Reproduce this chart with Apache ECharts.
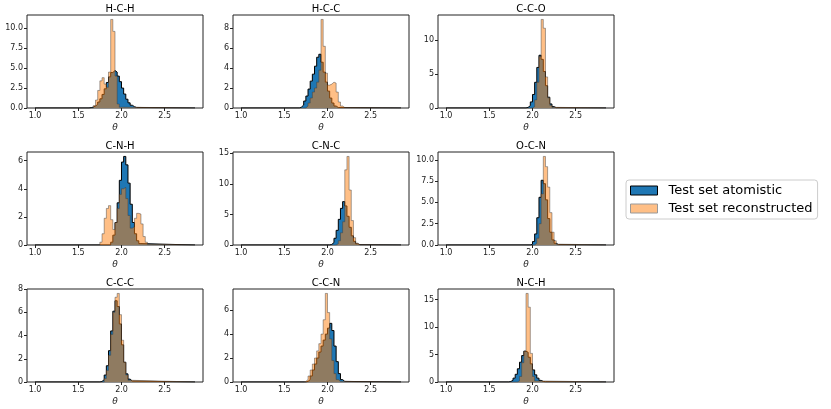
<!DOCTYPE html>
<html><head><meta charset="utf-8">
<script src="https://cdn.jsdelivr.net/npm/echarts@6/dist/echarts.min.js"></script>
<style>html,body{margin:0;padding:0;background:#fff}#c{width:831px;height:409px}</style>
</head><body><div id="c"></div>
<script>
// ---- data ----
const titles = ['H-C-H','H-C-C','C-C-O','C-N-H','C-N-C','O-C-N','C-C-C','C-C-N','N-C-H'];
const binWidth = 0.025;
const thetaRange = [1.0, 2.85];
const xTicks = [1.0, 1.5, 2.0, 2.5];
const yTickStep = [2.5, 2, 5, 2, 5, 2.5, 2, 2, 5];
const yDecimals = [1, 0, 0, 0, 0, 1, 0, 0, 0];
// left edge (theta) of first listed bin, per panel
const atomStart  = [1.625, 1.675, 1.925, 1.875, 2.025, 1.975, 1.750, 1.750, 1.725];
const reconStart = [1.675, 1.750, 2.000, 1.750, 2.100, 2.025, 1.800, 1.725, 1.825];

const atomHCH  = [0.05,0.12,0.25,0.45,0.75,1.15,1.7,2.4,3.2,3.9,4.45,4.7,4.5,4.0,3.3,2.5,1.75,1.1,0.65,0.35,0.17,0.07];
const reconHCH = [0.3,1.0,2.2,3.4,3.8,3.0,2.6,4.5,11.1,9.6,4.0,0.5,0.1];
const atomHCC  = [0.1,0.3,0.7,1.2,1.9,2.7,3.4,4.2,5.1,5.4,4.6,3.6,2.6,1.7,1.0,0.5,0.2,0.05];
const reconHCC = [0.2,0.5,1.0,1.6,2.0,2.6,3.8,8.9,6.2,3.5,2.3,2.4,2.6,2.5,1.6,0.6,0.2,0.05];
const atomCCO  = [0.1,0.35,0.9,2.0,3.8,6.0,7.8,7.2,5.4,3.3,1.6,0.6,0.2,0.05];
const reconCCO = [0.2,1.2,3.8,7.6,13.1,11.8,4.6,1.5,0.4,0.1];
const atomCNH  = [0.2,0.7,1.6,3.0,4.6,5.9,6.3,5.7,4.4,2.9,1.6,0.8,0.3,0.1];
const reconCNH = [0.2,0.8,1.9,2.6,2.8,1.8,1.1,1.6,2.6,3.6,4.0,4.1,3.3,2.1,1.2,1.3,1.9,2.25,2.2,1.5,0.6,0.2,0.05];
const atomCNC  = [0.1,0.4,1.1,2.4,4.2,6.0,7.1,6.4,4.7,2.9,1.5,0.6,0.2,0.05];
const reconCNC = [0.2,0.7,2.0,3.8,12.3,14.5,9.0,4.0,1.2,0.3,0.05];
const atomOCN  = [0.1,0.4,1.3,3.2,5.6,7.6,7.2,5.3,3.1,1.5,0.6,0.2,0.05];
const reconOCN = [0.2,0.8,2.5,6.0,10.4,9.2,6.8,3.8,1.5,0.5,0.1];
const atomCCC  = [0.05,0.2,0.6,1.4,2.7,4.4,6.1,7.0,6.5,5.0,3.2,1.7,0.7,0.25,0.08];
const reconCCC = [0.3,1.0,2.3,4.1,6.0,7.3,7.63,5.8,3.6,1.7,0.6,0.15];
const atomCCN  = [0.05,0.2,0.5,1.0,1.5,2.0,2.5,3.0,3.5,4.0,4.5,4.9,4.3,3.0,1.7,0.7,0.2,0.05];
const reconCCN = [0.05,0.2,0.5,1.0,1.5,2.0,2.6,3.2,4.0,5.2,7.4,5.8,3.6,1.8,0.7,0.2,0.05];
const atomNCH  = [0.1,0.3,0.7,1.4,2.4,3.6,4.8,5.6,5.4,4.5,3.3,2.2,1.3,0.7,0.3,0.1,0.05];
const reconNCH = [0.2,1.0,3.5,5.6,16.1,13.6,5.2,1.0,0.2];

const atomistic = [atomHCH, atomHCC, atomCCO, atomCNH, atomCNC, atomOCN, atomCCC, atomCCN, atomNCH];
const reconstructed = [reconHCH, reconHCC, reconCCO, reconCNH, reconCNC, reconOCN, reconCCC, reconCCN, reconNCH];
const seriesNames = ['Test set atomistic', 'Test set reconstructed'];

// ---- layout ----
const colLeft = [27, 233, 438];
const rowTop = [15, 152, 289];
const gw = 176, gh = 93;
const xMin = 0.9075, xMax = 2.9425;
const FONT = 'DejaVu Sans';

function stepData(start, h) {
  const pts = [[thetaRange[0], 0]];
  h.forEach((v, i) => pts.push([+(start + i * binWidth).toFixed(4), v]));
  pts.push([+(start + h.length * binWidth).toFixed(4), 0]);
  pts.push([thetaRange[1], 0]);
  return pts;
}

const grid = [], xAxis = [], yAxis = [], series = [], title = [];
for (let i = 0; i < 9; i++) {
  const r = Math.floor(i / 3), c = i % 3;
  grid.push({left: colLeft[c], top: rowTop[r], width: gw, height: gh, show: true,
    borderColor: '#222', borderWidth: 1, backgroundColor: 'transparent'});
  title.push({text: titles[i], left: colLeft[c] + gw / 2, top: rowTop[r] - 16, textAlign: 'center',
    textStyle: {fontFamily: FONT, fontSize: 10, fontWeight: 'normal', color: '#000'}});
  const yMaxData = Math.max(...atomistic[i], ...reconstructed[i]);
  const yMax = yMaxData * 1.05;
  const yt = [];
  for (let v = 0; v <= yMax + 1e-9; v += yTickStep[i]) yt.push(+v.toFixed(4));
  xAxis.push({type: 'value', gridIndex: i, min: xMin, max: xMax,
    axisLine: {show: false},
    axisTick: {show: true, length: 3, customValues: xTicks, lineStyle: {color: '#222', width: 1}},
    axisLabel: {customValues: xTicks, formatter: v => v.toFixed(1), fontFamily: FONT, fontSize: 8, color: '#222', margin: 4},
    splitLine: {show: false},
    name: 'θ', nameLocation: 'middle', nameGap: 15,
    nameTextStyle: {fontFamily: FONT, fontSize: 9, fontStyle: 'italic', color: '#222'}});
  yAxis.push({type: 'value', gridIndex: i, min: 0, max: yMax,
    axisLine: {show: false},
    axisTick: {show: true, length: 3, customValues: yt, lineStyle: {color: '#222', width: 1}},
    axisLabel: {customValues: yt, formatter: v => v.toFixed(yDecimals[i]), fontFamily: FONT, fontSize: 8, color: '#222', margin: 4},
    splitLine: {show: false}});
  series.push({name: seriesNames[0], type: 'line', step: 'end', xAxisIndex: i, yAxisIndex: i,
    symbol: 'none', data: stepData(atomStart[i], atomistic[i]), z: 2,
    itemStyle: {color: '#1f77b4'},
    lineStyle: {color: '#000', width: 1}, areaStyle: {color: '#1f77b4', opacity: 1}});
  series.push({name: seriesNames[1], type: 'line', step: 'end', xAxisIndex: i, yAxisIndex: i,
    symbol: 'none', data: stepData(reconStart[i], reconstructed[i]), z: 3,
    itemStyle: {color: '#ffbf86'},
    lineStyle: {color: 'rgba(60,60,60,0.45)', width: 1}, areaStyle: {color: '#ff7f0e', opacity: 0.5}});
}

const chart = echarts.init(document.getElementById('c'));
chart.setOption({
  animation: false,
  backgroundColor: '#fff',
  title, grid, xAxis, yAxis, series,
  legend: {
    orient: 'vertical', left: 626, top: 180,
    itemWidth: 27, itemHeight: 9, itemGap: 5,
    padding: [4, 5, 4, 4],
    borderColor: '#ccc', borderWidth: 1, borderRadius: 3,
    selectedMode: false,
    textStyle: {fontFamily: FONT, fontSize: 13, color: '#000', padding: [0, 0, 0, 6]},
    data: [
      {name: seriesNames[0], icon: 'rect', itemStyle: {color: '#1f77b4', borderColor: '#000', borderWidth: 1}},
      {name: seriesNames[1], icon: 'rect', itemStyle: {color: '#ffbf86', borderColor: '#999', borderWidth: 1}}
    ]
  }
});
</script>
</body></html>
